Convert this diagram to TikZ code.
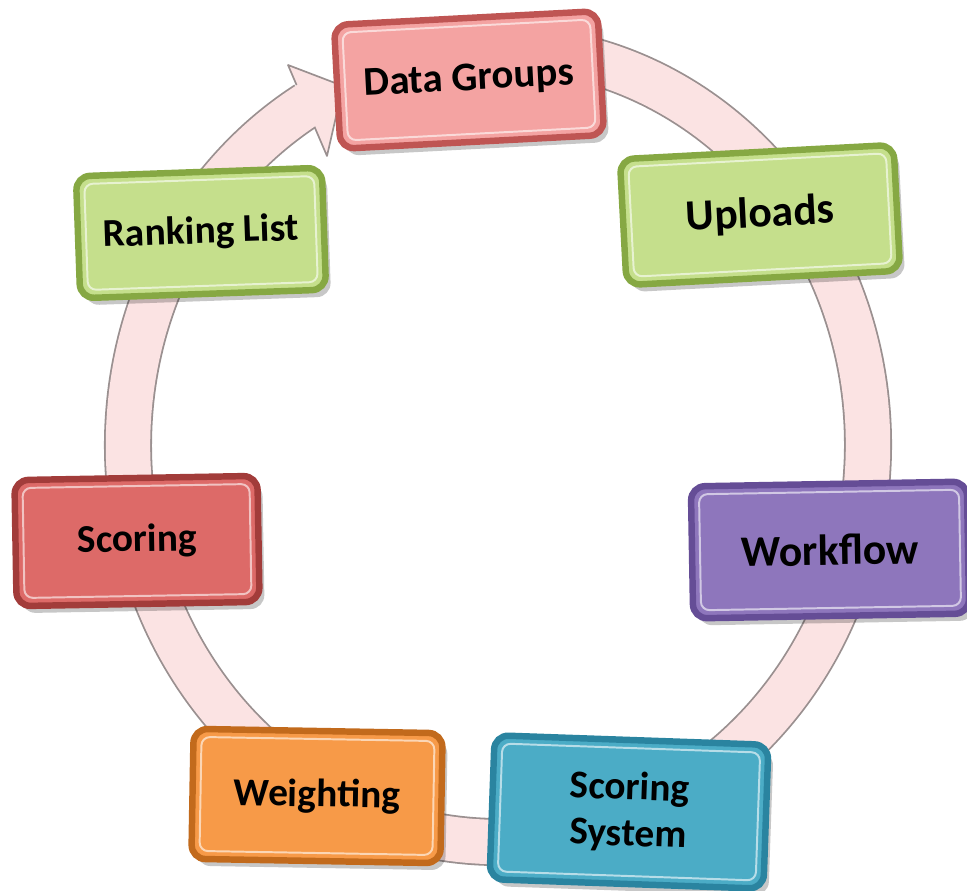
\documentclass[tikz,border=0pt]{standalone}
\usepackage{fontspec}
\setmainfont{Carlito}
\definecolor{ringPink}{HTML}{FBE3E3}
\definecolor{ringGray}{HTML}{9A9090}
\definecolor{pinkFill}{HTML}{F4A3A2}
\definecolor{pinkEdge}{HTML}{BF5553}
\definecolor{greenFill}{HTML}{C5DF8C}
\definecolor{greenEdge}{HTML}{86A843}
\definecolor{purpleFill}{HTML}{8E76BC}
\definecolor{purpleEdge}{HTML}{654D96}
\definecolor{blueFill}{HTML}{4BACC6}
\definecolor{blueEdge}{HTML}{2A84A0}
\definecolor{orangeFill}{HTML}{F79A48}
\definecolor{orangeEdge}{HTML}{C26A1C}
\definecolor{redFill}{HTML}{DD6A68}
\definecolor{redEdge}{HTML}{A23C3A}

\begin{document}
\begin{tikzpicture}
[x=0.025cm,y=-0.025cm,
  ringEdge/.style={draw=ringGray,line width=1.2cm},
  ringFill/.style={draw=ringPink,line width=1.11cm},
  boxDecorate/.style={shape=rectangle,rounded corners=10pt,line width=4.6pt,align=center},
  shadowDecorate/.style={shape=rectangle,rounded corners=10pt,fill=black,opacity=0.22},
  rimDecorate/.style={shape=rectangle,rounded corners=6pt,draw=white,opacity=0.6,line width=1.4pt},
  pinkBox/.style={fill=pinkFill,draw=pinkEdge},
  greenBox/.style={fill=greenFill,draw=greenEdge},
  purpleBox/.style={fill=purpleFill,draw=purpleEdge},
  blueBox/.style={fill=blueFill,draw=blueEdge},
  orangeBox/.style={fill=orangeFill,draw=orangeEdge},
  redBox/.style={fill=redFill,draw=redEdge}]
\useasboundingbox (0,0) rectangle (967,891);
%% ring and its arrow head
\draw[ringEdge] (498,445) ++(-85:370 and 397) arc[start angle=-85,end angle=239,x radius=370,y radius=397];
\filldraw[draw=ringGray,fill=ringPink,line width=1.2pt,line join=round] (288,65) -- (343,86) -- (327,156) -- cycle;
\draw[ringFill] (498,445) ++(-85:370 and 397) arc[start angle=-85,end angle=241,x radius=370,y radius=397];
%% boxes
\foreach \nodename/\x/\y/\w/\h/\ang/\col/\fs/\txt in {
  dataGroups/469/80/264/124/3/pinkBox/29/Data Groups,
  uploads/760/215/274/126/3/greenBox/31/Uploads,
  workflow/830/550/276/132/1/purpleBox/31/Workflow,
  scoringSystem/629/812/274/144/-2/blueBox/28/{Scoring\\System},
  weighting/317/796/249/130/-1/orangeBox/28/Weighting,
  scoring/137/541/243/126/1/redBox/28/Scoring,
  rankingList/201/233/246/122/2/greenBox/28/Ranking List}
{
  \node (\nodename-shadow) at (\x+5,\y+7) [shadowDecorate,rotate=\ang,minimum width=\w*0.025cm,minimum height=\h*0.025cm] {};
  \node (\nodename) at (\x,\y) [boxDecorate,\col,rotate=\ang,minimum width=\w*0.025cm,minimum height=\h*0.025cm,
    font=\bfseries\fontsize{\fs}{33}\selectfont] {\txt};
  \node (\nodename-rim) at (\x,\y) [rimDecorate,rotate=\ang,minimum width=(\w-16)*0.025cm,minimum height=(\h-16)*0.025cm] {};
}
\end{tikzpicture}
\end{document}
